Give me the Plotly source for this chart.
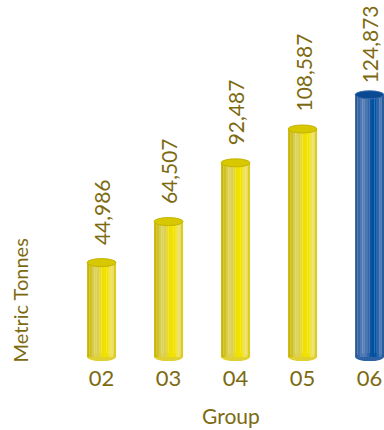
import plotly.graph_objects as go

# ---- data ----
groups = ["02", "03", "04", "05", "06"]
tonnes = [44986, 64507, 92487, 108587, 124873]
labels = ["44,986", "64,507", "92,487", "108,587", "124,873"]
highlight = "06"

# ---- style ----
TXT = "#7d6a10"
FONT = "Lato, 'Open Sans', sans-serif"
yellow_strips = ['#c8b400', '#d0c020', '#d8cc48', '#ddd25a', '#dcd050', '#e6d830',
                 '#f0e000', '#f2e200', '#f2e200', '#f0e44a', '#ece070', '#dccc20']
blue_strips = ['#2a5896', '#3a66a6', '#4d78b4', '#5580b8', '#4a76b0', '#3566aa',
               '#0c54a4', '#0050a0', '#0452a2', '#2a64ac', '#4a7ab6', '#2c5a9a']
yellow_top, yellow_rim = '#d8c800', '#c4b400'
blue_top, blue_rim = '#0a4a92', '#3a6aa8'
yellow_bot, blue_bot = '#e0d030', '#2e62a6'

W, H = 384, 430
ml, mr, mt, mb = 68, 0, 0, 67
plot_h = H - mt - mb
y_lo, y_hi = -2800, 170000
px_per_unit = plot_h / (y_hi - y_lo)
cap_half = 4 / px_per_unit     # ellipse half height in data units
bar_w = 0.43
n = len(yellow_strips)
xs = list(range(len(groups)))

fig = go.Figure()
for j in range(n):
    cols = [blue_strips[j] if g == highlight else yellow_strips[j] for g in groups]
    fig.add_trace(go.Bar(
        x=xs, y=tonnes, width=bar_w / n + 0.002, offset=-bar_w / 2 + j * bar_w / n,
        marker=dict(color=cols, line=dict(width=0)), hoverinfo="skip", showlegend=False))

shapes = []
for i, (g, v) in enumerate(zip(groups, tonnes)):
    isb = g == highlight
    shapes.append(dict(type="circle", xref="x", yref="y", layer="below",
                       x0=i - bar_w / 2, x1=i + bar_w / 2, y0=-cap_half, y1=cap_half,
                       fillcolor=blue_bot if isb else yellow_bot, line=dict(width=0)))
    shapes.append(dict(type="circle", xref="x", yref="y", layer="above",
                       x0=i - bar_w / 2, x1=i + bar_w / 2, y0=v - cap_half, y1=v + cap_half,
                       fillcolor=blue_top if isb else yellow_top,
                       line=dict(width=1, color=blue_rim if isb else yellow_rim)))

annotations = []
for i, (g, v, t) in enumerate(zip(groups, tonnes, labels)):
    annotations.append(dict(x=i, y=v, xref="x", yref="y", text=t, textangle=-90,
                            showarrow=False, yanchor="bottom", xanchor="center",
                            yshift=9 if g == highlight else 15,
                            font=dict(family=FONT, size=21, color=TXT)))
annotations.append(dict(x=(231 - ml) / (W - ml - mr), y=(plot_h - 415) / plot_h,
                        xref="paper", yref="paper", text="Group", showarrow=False,
                        xanchor="center", yanchor="middle",
                        font=dict(family=FONT, size=21, color=TXT)))
annotations.append(dict(x=(19.5 - ml) / (W - ml - mr), y=(plot_h - 300) / plot_h,
                        xref="paper", yref="paper", text="Metric Tonnes", showarrow=False,
                        textangle=-90, xanchor="center", yanchor="middle",
                        font=dict(family=FONT, size=20, color=TXT)))

fig.update_layout(
    width=W, height=H, margin=dict(l=ml, r=mr, t=mt, b=mb),
    paper_bgcolor="white", plot_bgcolor="white", barmode="overlay",
    shapes=shapes, annotations=annotations, showlegend=False,
    xaxis=dict(range=[-0.5, 4.216], tickvals=xs, ticktext=groups, showgrid=False,
               zeroline=False, showline=False, ticks="",
               tickfont=dict(family=FONT, size=22, color=TXT)),
    yaxis=dict(range=[y_lo, y_hi], visible=False, showgrid=False, zeroline=False),
)
fig.write_html("out.html")
